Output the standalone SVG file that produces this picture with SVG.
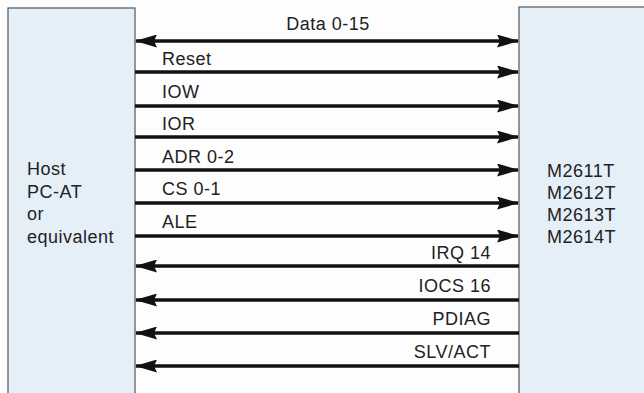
<svg xmlns="http://www.w3.org/2000/svg" width="644" height="393" viewBox="0 0 644 393">
<style>
.box{fill:#e5eff8;stroke:#555;stroke-width:1.2}
.ln{stroke:#111;stroke-width:3.5;fill:none}
.t{font-family:"Liberation Sans",Arial,sans-serif;font-size:18px;letter-spacing:0.5px;fill:#222}
.r{text-anchor:end}
.c{text-anchor:middle}
</style>
<defs>
<marker id="ah" markerUnits="userSpaceOnUse" markerWidth="22" markerHeight="13" refX="21" refY="6.5" orient="auto">
<path d="M0,0 L22,6.5 L0,13 L3,6.5 Z" fill="#111"/>
</marker>
<marker id="ahs" markerUnits="userSpaceOnUse" markerWidth="22" markerHeight="13" refX="1" refY="6.5" orient="auto">
<path d="M22,0 L0,6.5 L22,13 L19,6.5 Z" fill="#111"/>
</marker>
</defs>
<rect width="644" height="393" fill="#fdfdfd"/>
<g id="host">
<rect class="box" x="8" y="8" width="127" height="400"/>
<text class="t" x="27" y="175">Host</text>
<text class="t" x="27" y="198">PC-AT</text>
<text class="t" x="27" y="220">or</text>
<text class="t" x="27" y="243">equivalent</text>
</g>
<g id="drive">
<rect class="box" x="519" y="7" width="140" height="400"/>
<text class="t" x="547" y="177">M2611T</text>
<text class="t" x="547" y="199">M2612T</text>
<text class="t" x="547" y="221">M2613T</text>
<text class="t" x="547" y="243">M2614T</text>
</g>
<g id="connectors">
<line class="ln" x1="136" y1="41" x2="518" y2="41" marker-start="url(#ahs)" marker-end="url(#ah)"/>
<line class="ln" x1="135" y1="72" x2="518" y2="72" marker-end="url(#ah)"/>
<line class="ln" x1="135" y1="106" x2="518" y2="106" marker-end="url(#ah)"/>
<line class="ln" x1="135" y1="137" x2="518" y2="137" marker-end="url(#ah)"/>
<line class="ln" x1="135" y1="170" x2="518" y2="170" marker-end="url(#ah)"/>
<line class="ln" x1="135" y1="203" x2="518" y2="203" marker-end="url(#ah)"/>
<line class="ln" x1="135" y1="236" x2="518" y2="236" marker-end="url(#ah)"/>
<line class="ln" x1="519" y1="266" x2="136" y2="266" marker-end="url(#ah)"/>
<line class="ln" x1="519" y1="300" x2="136" y2="300" marker-end="url(#ah)"/>
<line class="ln" x1="519" y1="333" x2="136" y2="333" marker-end="url(#ah)"/>
<line class="ln" x1="519" y1="366" x2="136" y2="366" marker-end="url(#ah)"/>
<text class="t c" x="328" y="30">Data 0-15</text>
<text class="t" x="162" y="65">Reset</text>
<text class="t" x="162" y="98">IOW</text>
<text class="t" x="162" y="130">IOR</text>
<text class="t" x="162" y="163">ADR 0-2</text>
<text class="t" x="162" y="195">CS 0-1</text>
<text class="t" x="162" y="228">ALE</text>
<text class="t r" x="491" y="259">IRQ 14</text>
<text class="t r" x="491" y="292">IOCS 16</text>
<text class="t r" x="491" y="325">PDIAG</text>
<text class="t r" x="491" y="358">SLV/ACT</text>
</g>
</svg>
